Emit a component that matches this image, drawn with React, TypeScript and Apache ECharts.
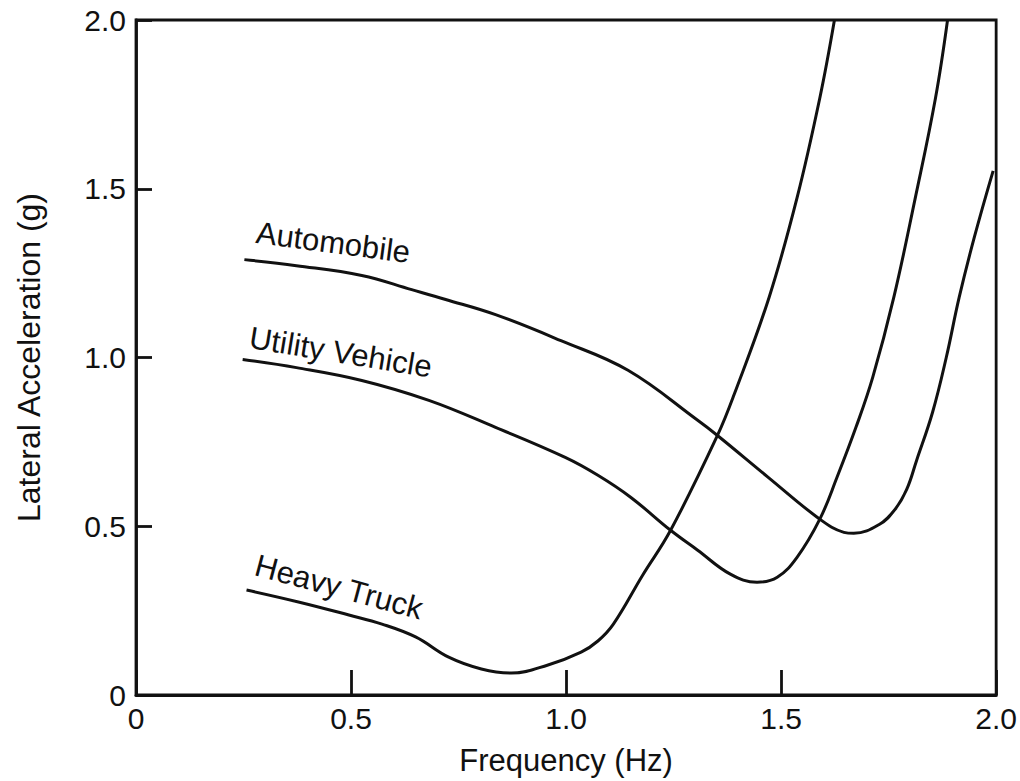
import React, { useEffect, useRef } from 'react';
import * as echarts from 'echarts';

// Frequency (Hz) and lateral acceleration (g)
const freqAutomobile = [0.252, 0.373, 0.525, 0.641, 0.720, 0.836, 0.988, 1.144, 1.306, 1.352, 1.470, 1.590, 1.646, 1.669, 1.729, 1.765, 1.792, 1.815, 1.852, 1.884, 1.914, 1.949, 1.993];
const accAutomobile = [1.290, 1.272, 1.243, 1.201, 1.172, 1.127, 1.050, 0.962, 0.814, 0.769, 0.645, 0.521, 0.482, 0.479, 0.506, 0.550, 0.609, 0.695, 0.837, 1.000, 1.178, 1.355, 1.553];

const freqUtility = [0.248, 0.373, 0.525, 0.681, 0.836, 0.998, 1.074, 1.150, 1.243, 1.306, 1.382, 1.444, 1.491, 1.537, 1.590, 1.630, 1.674, 1.713, 1.762, 1.812, 1.859, 1.887];
const accUtility = [0.994, 0.970, 0.932, 0.873, 0.793, 0.704, 0.651, 0.586, 0.488, 0.429, 0.358, 0.334, 0.349, 0.408, 0.521, 0.645, 0.793, 0.941, 1.178, 1.473, 1.769, 2.0];

const freqTruck = [0.257, 0.380, 0.495, 0.572, 0.650, 0.727, 0.803, 0.873, 0.958, 1.035, 1.074, 1.110, 1.178, 1.243, 1.352, 1.391, 1.472, 1.537, 1.590, 1.624];
const accTruck = [0.311, 0.275, 0.237, 0.210, 0.172, 0.112, 0.077, 0.065, 0.089, 0.127, 0.160, 0.210, 0.355, 0.488, 0.769, 0.891, 1.178, 1.473, 1.769, 2.0];

const seriesNames = ['Automobile', 'Utility Vehicle', 'Heavy Truck'];
const xTickLabels = ['0', '0.5', '1.0', '1.5', '2.0'];
const yTickLabels = ['0', '0.5', '1.0', '1.5', '2.0'];
const xTitle = 'Frequency (Hz)';
const yTitle = 'Lateral Acceleration (g)';

const FONT = "'Liberation Sans', Arial, Helvetica, sans-serif";
const INK = '#111';

export default function App() {
  const ref = useRef<HTMLDivElement>(null);
  useEffect(() => {
    const chart = echarts.init(ref.current as HTMLDivElement, null, { renderer: 'svg' });
    const pair = (xs: number[], ys: number[]) => xs.map((x, i) => [x, ys[i]]);
    const curves = [
      pair(freqAutomobile, accAutomobile),
      pair(freqUtility, accUtility),
      pair(freqTruck, accTruck),
    ];
    const deg = (d: number) => (d * Math.PI) / 180;
    const label = (text: string, x: number, y: number, angle: number) => ({
      type: 'text',
      x,
      y,
      rotation: -deg(angle),
      style: {
        text,
        fill: INK,
        font: `31px ${FONT}`,
        align: 'left',
        verticalAlign: 'middle',
      },
    });
    chart.setOption({
      animation: false,
      backgroundColor: '#fff',
      grid: {
        left: 136,
        right: 20,
        top: 20,
        bottom: 83,
        show: true,
        borderColor: INK,
        borderWidth: 2.8,
      },
      xAxis: {
        type: 'value',
        min: 0,
        max: 2,
        interval: 0.5,
        axisLine: { show: true, lineStyle: { color: INK, width: 2.8 } },
        axisTick: { show: true, inside: true, length: 25, lineStyle: { color: INK, width: 2.8 } },
        splitLine: { show: false },
        axisLabel: {
          formatter: (v: number) => xTickLabels[Math.round(v / 0.5)],
          fontFamily: FONT,
          fontSize: 30,
          color: INK,
          margin: 8,
        },
        name: xTitle,
        nameLocation: 'middle',
        nameGap: 50,
        nameTextStyle: { fontFamily: FONT, fontSize: 31, color: INK },
      },
      yAxis: {
        type: 'value',
        min: 0,
        max: 2,
        interval: 0.5,
        axisLine: { show: true, lineStyle: { color: INK, width: 2.8 } },
        axisTick: { show: true, inside: true, length: 16, lineStyle: { color: INK, width: 2.8 } },
        splitLine: { show: false },
        axisLabel: {
          formatter: (v: number) => yTickLabels[Math.round(v / 0.5)],
          fontFamily: FONT,
          fontSize: 30,
          color: INK,
          margin: 10,
          padding: [0, 0, 10, 0],
        },
        name: yTitle,
        nameLocation: 'middle',
        nameRotate: 90,
        nameGap: 91,
        nameTextStyle: { fontFamily: FONT, fontSize: 32, color: INK },
      },
      series: curves.map((data, i) => ({
        name: seriesNames[i],
        type: 'line',
        data,
        smooth: 0.4,
        symbol: 'none',
        clip: true,
        lineStyle: { color: INK, width: 3 },
      })),
      graphic: [
        label(seriesNames[0], 256.4, 232.4, 7.5),
        label(seriesNames[1], 249.7, 337.4, 9.3),
        label(seriesNames[2], 255.8, 564.7, 15),
      ],
    });
    return () => chart.dispose();
  }, []);
  return (
    <div
      ref={ref}
      style={{ position: 'fixed', left: 0, top: 0, width: 1020, height: 781, background: '#fff' }}
    />
  );
}
